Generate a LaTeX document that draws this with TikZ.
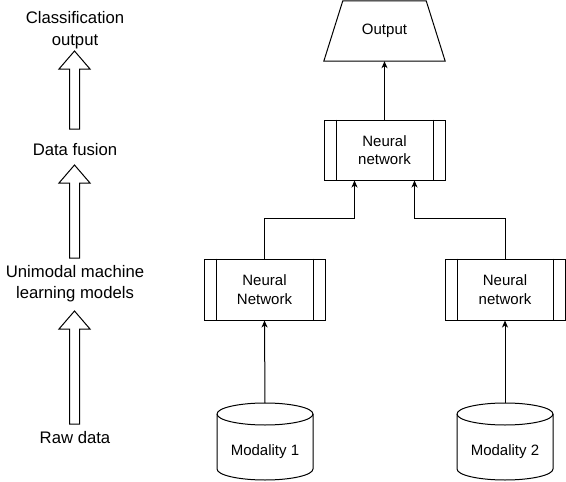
\documentclass[tikz,border=0pt]{standalone}
\usepackage{fontspec}
\setmainfont{Liberation Sans}
\usetikzlibrary{arrows.meta,calc}
\begin{document}
\begin{tikzpicture}[x=1pt,y=1pt,
  lbl/.style={font=\fontsize{16.7}{21.5}\selectfont,align=center,inner sep=0},
  txt/.style={font=\fontsize{15}{18.5}\selectfont,align=center,inner sep=0},
  nnbox/.style={draw,line width=1pt,minimum width=121pt,minimum height=61pt,inner sep=0,txt},
  conn/.style={line width=1pt,-{Stealth[length=7pt,width=6pt,inset=2pt]}},
  blk/.style={draw,line width=1pt,fill=white,line join=miter},
  dbcyl/.pic={
    \draw[line width=1pt,fill=white] (-48,0) -- (-48,-55) arc(180:360:48 and 11) -- (48,0) arc(0:180:48 and 11) -- cycle;
    \draw[line width=1pt] (-48,0) arc(180:360:48 and 11);
  }]
\useasboundingbox (0,0) rectangle (566,-482);

% left column
\node[lbl] (cls) at (75,-30) {Classification\\output};
\node[lbl] (fus) at (75,-150) {Data fusion};
\node[lbl] (uni) at (75,-283.5) {Unimodal machine\\learning models};
\node[lbl] (raw) at (75,-438) {Raw data};
\draw[blk] (69.5,-129) -- (69.5,-69) -- (59,-69) -- (74.5,-51) -- (90,-69) -- (79.5,-69) -- (79.5,-129) -- cycle;
\draw[blk] (69.5,-258) -- (69.5,-183) -- (59,-183) -- (74.5,-165) -- (90,-183) -- (79.5,-183) -- (79.5,-258) -- cycle;
\draw[blk] (69.5,-424) -- (69.5,-329) -- (59,-329) -- (74.5,-311) -- (90,-329) -- (79.5,-329) -- (79.5,-424) -- cycle;

% output trapezoid
\node[txt,minimum width=121pt,minimum height=60pt] (out) at (384.5,-31) {Output};
\draw[line width=1pt,line join=miter] (out.south west) -- (out.south east) -- ([xshift=-19pt]out.north east) -- ([xshift=19pt]out.north west) -- cycle;

% neural networks
\node[nnbox,minimum height=60pt] (nnt) at (384.5,-150) {Neural\\network};
\node[nnbox] (nn1) at (264.5,-289.5) {Neural\\Network};
\node[nnbox,minimum width=120pt] (nn2) at (505,-289.5) {Neural\\network};
\foreach \n in {nnt,nn1,nn2}{
  \draw[line width=1pt] ([xshift=12.5pt]\n.north west) -- ([xshift=12.5pt]\n.south west);
  \draw[line width=1pt] ([xshift=-12.5pt]\n.north east) -- ([xshift=-12.5pt]\n.south east);
}

% cylinders
\pic at (265,-414) {dbcyl};
\pic at (505,-414) {dbcyl};
\node[txt] (m1) at (265,-452) {Modality 1};
\node[txt] (m2) at (505,-452) {Modality 2};
\coordinate (m1top) at (265,-403);
\coordinate (m2top) at (505,-403);

% connectors
\draw[conn] (m1top) -- (nn1.south);
\draw[conn] (m2top) -- (nn2.south);
\draw[conn] (nn1.north) -- ++(0,40) -| ([xshift=-30pt]nnt.south);
\draw[conn] (nn2.north) -- ++(0,40) -| ([xshift=30pt]nnt.south);
\draw[conn] (nnt.north) -- (out.south);
\end{tikzpicture}
\end{document}
